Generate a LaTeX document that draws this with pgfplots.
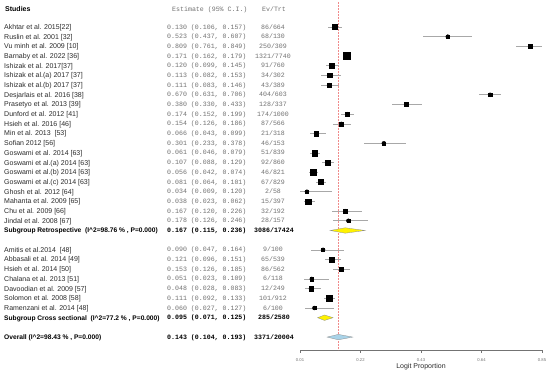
\documentclass[border=0pt]{standalone}
\usepackage{pgfplots}
\pgfplotsset{compat=1.18}
\usepackage{pgfplotstable}
\usepackage{fontspec}
\setmainfont{Liberation Sans}
\newfontfamily\monofont{Liberation Mono}
\definecolor{namecol}{HTML}{2A2A2A}
\definecolor{estcol}{HTML}{707070}
\definecolor{cicol}{HTML}{A8A8A8}
\definecolor{dblue}{HTML}{A9D3E8}
\definecolor{refline}{HTML}{F08A8A}

\pgfplotstableread{
r est lo hi h
0 0.130 0.106 0.157 2.35
1 0.523 0.437 0.607 1.65
2 0.809 0.761 0.849 1.85
3 0.171 0.162 0.179 3.65
4 0.120 0.099 0.145 2.5
5 0.113 0.082 0.153 2.15
6 0.111 0.083 0.146 2.15
7 0.670 0.631 0.706 1.85
8 0.380 0.330 0.433 2.0
9 0.174 0.152 0.199 2.15
10 0.154 0.126 0.186 2.15
11 0.066 0.043 0.099 2.15
12 0.301 0.233 0.378 1.5
13 0.061 0.046 0.079 3.0
14 0.107 0.088 0.129 2.5
15 0.056 0.042 0.074 2.85
16 0.081 0.064 0.101 2.5
17 0.034 0.009 0.120 1.5
18 0.038 0.023 0.062 2.65
19 0.167 0.120 0.226 1.65
20 0.178 0.126 0.246 1.5
23 0.090 0.047 0.164 1.65
24 0.121 0.096 0.151 2.35
25 0.153 0.126 0.185 2.35
26 0.051 0.023 0.109 1.85
27 0.048 0.028 0.083 2.15
28 0.111 0.092 0.133 2.65
29 0.060 0.027 0.127 1.65
}\studies

\newcommand{\namefont}{\fontsize{7bp}{8bp}\selectfont}
\newcommand{\boldnamefont}{\fontsize{6.65bp}{8bp}\selectfont\bfseries}
\newcommand{\estfont}{\monofont\fontsize{6.6bp}{8bp}\selectfont}
\newcommand{\rowt}[4]{%
  \node[anchor=base west, inner sep=0, font=\namefont, text=namecol] at (4bp, {(345.6-#1*9.69)*1bp}) {#2};
  \node[anchor=base west, inner sep=0, font=\estfont, text=estcol] at (167bp, {(346.0-#1*9.69)*1bp}) {#3};
  \node[anchor=base, inner sep=0, font=\estfont, text=estcol] at (273bp, {(346.0-#1*9.69)*1bp}) {#4};
}
\newcommand{\rowb}[4]{%
  \node[anchor=base west, inner sep=0, font=\boldnamefont, text=black] at (4bp, {(345.6-#1*9.69)*1bp}) {#2};
  \node[anchor=base west, inner sep=0, font=\estfont\bfseries, text=black] at (167bp, {(346.0-#1*9.69)*1bp}) {#3};
  \node[anchor=base, inner sep=0, font=\estfont\bfseries, text=black] at (274bp, {(346.0-#1*9.69)*1bp}) {#4};
}

\begin{document}
\begin{tikzpicture}
\path[use as bounding box] (0,0) rectangle (550bp,375bp);

\begin{axis}[
  at={(300bp,25bp)}, anchor=south west,
  scale only axis, width=242bp, height=350bp,
  xmin=0.01, xmax=0.85, ymin=-33.333, ymax=2.786,
  axis x line*=bottom, axis y line=none,
  x axis line style={-, draw=black!55, line width=0.5bp},
  xtick={0.01,0.22,0.43,0.64,0.85},
  xticklabels={0.01,0.22,0.43,0.64,0.85},
  tick align=outside, major tick length=3bp,
  x tick style={draw=black!55, line width=0.5bp},
  xticklabel style={font=\fontsize{4.2bp}{5bp}\selectfont, text=black!55, anchor=center, yshift=-7bp},
  xlabel={Logit Proportion},
  every axis x label/.style={at={(axis description cs:0.5,0)}, anchor=center, yshift=-17bp, font=\namefont, text=namecol},
  ytick=\empty,
  clip=false,
]
% reference line at overall estimate
\addplot[refline, dashed, dash pattern=on 2bp off 1bp, line width=0.6bp] coordinates {(0.143,2.58) (0.143,-33.333)};

% confidence intervals
\addplot[only marks, mark=none,
  error bars/.cd, x dir=both, x explicit, error mark=none,
  error bar style={draw=cicol, line width=0.65bp}]
  table[x=est, y expr=-\thisrow{r},
        x error plus expr=\thisrow{hi}-\thisrow{est},
        x error minus expr=\thisrow{est}-\thisrow{lo}] {\studies};

% study squares
\addplot[scatter, only marks, mark=square*,
  scatter/use mapped color={draw=black, fill=black},
  visualization depends on={\thisrow{h} \as \msz},
  scatter/@pre marker code/.append style={/tikz/mark size=\msz, /tikz/line width=0.1bp}]
  table[x=est, y expr=-\thisrow{r}] {\studies};

% subgroup and overall diamonds
\addplot[fill=yellow, draw=black!45, line width=0.3bp] coordinates {(0.115,-21) (0.167,-20.72) (0.236,-21) (0.167,-21.28)} -- cycle;
\addplot[fill=yellow, draw=black!45, line width=0.3bp] coordinates {(0.071,-30) (0.095,-29.72) (0.125,-30) (0.095,-30.28)} -- cycle;
\addplot[fill=dblue, draw=black!45, line width=0.3bp] coordinates {(0.104,-32) (0.143,-31.72) (0.193,-32) (0.143,-32.28)} -- cycle;
\end{axis}

% headers
\node[anchor=base west, inner sep=0, font=\namefont\bfseries, text=black] at (5bp, {(375-9-2.4)*1bp}) {Studies};
\node[anchor=base west, inner sep=0, font=\estfont, text=estcol] at (172bp, {(375-9-2.0)*1bp}) {Estimate (95\% C.I.)};
\node[anchor=base, inner sep=0, font=\estfont, text=estcol] at (274bp, {(375-9-2.0)*1bp}) {Ev/Trt};

\rowt{0}{Akhtar et al. 2015[22]}{0.130 (0.106, 0.157)}{86/664}
\rowt{1}{Ruslin et al. 2001 [32]}{0.523 (0.437, 0.607)}{68/130}
\rowt{2}{Vu minh et al. 2009 [10]}{0.809 (0.761, 0.849)}{250/309}
\rowt{3}{Barnaby et al. 2022 [36]}{0.171 (0.162, 0.179)}{1321/7740}
\rowt{4}{Ishizak et al. 2017[37]}{0.120 (0.099, 0.145)}{91/760}
\rowt{5}{Ishizak et al.(a) 2017 [37]}{0.113 (0.082, 0.153)}{34/302}
\rowt{6}{Ishizak et al.(b) 2017 [37]}{0.111 (0.083, 0.146)}{43/389}
\rowt{7}{Desjarlais et al. 2016 [38]}{0.670 (0.631, 0.706)}{404/603}
\rowt{8}{Prasetyo et al. 2013 [39]}{0.380 (0.330, 0.433)}{128/337}
\rowt{9}{Dunford et al. 2012 [41]}{0.174 (0.152, 0.199)}{174/1000}
\rowt{10}{Hsieh et al. 2016 [46]}{0.154 (0.126, 0.186)}{87/566}
\rowt{11}{Min et al. 2013 \ [53]}{0.066 (0.043, 0.099)}{21/318}
\rowt{12}{Sofian 2012 [56]}{0.301 (0.233, 0.378)}{46/153}
\rowt{13}{Goswami et al. 2014 [63]}{0.061 (0.046, 0.079)}{51/839}
\rowt{14}{Goswami et al.(a) 2014 [63]}{0.107 (0.088, 0.129)}{92/860}
\rowt{15}{Goswami et al.(b) 2014 [63]}{0.056 (0.042, 0.074)}{46/821}
\rowt{16}{Goswami et al.(c) 2014 [63]}{0.081 (0.064, 0.101)}{67/829}
\rowt{17}{Ghosh et al. 2012 [64]}{0.034 (0.009, 0.120)}{2/58}
\rowt{18}{Mahanta et al. 2009 [65]}{0.038 (0.023, 0.062)}{15/397}
\rowt{19}{Chu et al. 2009 [66]}{0.167 (0.120, 0.226)}{32/192}
\rowt{20}{Jindal et al. 2008 [67]}{0.178 (0.126, 0.246)}{28/157}
\rowb{21}{Subgroup Retrospective \ (I\^{}2=98.76 \% , P=0.000)}{0.167 (0.115, 0.236)}{3086/17424}
\rowt{23}{Amitis et al.2014 \ [48]}{0.090 (0.047, 0.164)}{9/100}
\rowt{24}{Abbasali et al. 2014 [49]}{0.121 (0.096, 0.151)}{65/539}
\rowt{25}{Hsieh et al. 2014 [50]}{0.153 (0.126, 0.185)}{86/562}
\rowt{26}{Chalana et al. 2013 [51]}{0.051 (0.023, 0.109)}{6/118}
\rowt{27}{Davoodian et al. 2009 [57]}{0.048 (0.028, 0.083)}{12/249}
\rowt{28}{Solomon et al. 2008 [58]}{0.111 (0.092, 0.133)}{101/912}
\rowt{29}{Ramenzani et al. 2014 [48]}{0.060 (0.027, 0.127)}{6/100}
\rowb{30}{Subgroup Cross sectional \ (I\^{}2=77.2 \% , P=0.000)}{0.095 (0.071, 0.125)}{285/2580}
\rowb{32}{Overall (I\^{}2=98.43 \% , P=0.000)}{0.143 (0.104, 0.193)}{3371/20004}
\end{tikzpicture}
\end{document}
